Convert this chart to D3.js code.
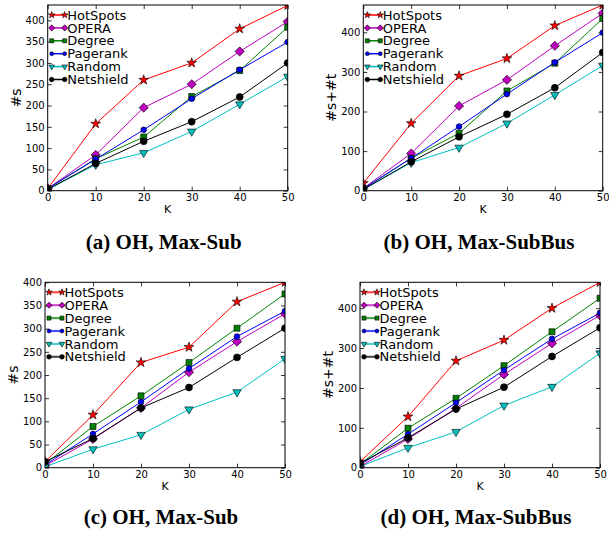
<!DOCTYPE html>
<html>
<head>
<meta charset="utf-8">
<script src="https://cdn.jsdelivr.net/npm/d3@7"></script>
<style>
  body { margin: 0; background: #fff; }
  svg { display: block; }
  .tick text { font-family: "DejaVu Sans", sans-serif; font-size: 10px; fill: #000; }
</style>
</head>
<body>
<script>
// x values and series names
var kValues = [0, 10, 20, 30, 40, 50];
var methods = ["HotSpots", "OPERA", "Degree", "Pagerank", "Random", "Netshield"];

// (a) OH, Max-Sub : #s
var seriesA = [
  [5, 157, 260, 300, 380, 435],
  [5, 84, 195, 250, 327, 397],
  [5, 75, 126, 221, 282, 384],
  [5, 74, 143, 216, 284, 349],
  [3, 61, 89, 139, 203, 268],
  [3, 64, 116, 162, 220, 300]
];
// (b) OH, Max-SubBus : #s+#t
var seriesB = [
  [19, 170, 290, 334, 417, 469],
  [6, 94, 214, 280, 366, 448],
  [5, 82, 145, 252, 322, 435],
  [5, 82, 162, 244, 324, 399],
  [3, 71, 109, 170, 242, 316],
  [3, 73, 136, 193, 260, 349]
];
// (c) OH, Max-Sub : #s
var seriesC = [
  [13, 114, 227, 260, 358, 400],
  [4, 62, 129, 206, 272, 332],
  [8, 89, 155, 227, 301, 375],
  [6, 73, 142, 214, 283, 338],
  [2, 40, 71, 126, 163, 235],
  [13, 63, 129, 173, 238, 301]
];
// (d) OH, Max-SubBus : #s+#t
var seriesD = [
  [15, 128, 268, 320, 400, 465],
  [3, 72, 149, 234, 312, 382],
  [9, 99, 174, 256, 341, 425],
  [7, 84, 163, 245, 323, 388],
  [3, 50, 90, 156, 203, 287],
  [11, 75, 147, 202, 279, 351]
];

var xTicks = [0, 10, 20, 30, 40, 50];
var yTicks50 = [0, 50, 100, 150, 200, 250, 300, 350, 400];
var yTicks100 = [0, 100, 200, 300, 400];
var yMaxes = [436, 469, 400, 465];
var captions = ["(a) OH, Max-Sub", "(b) OH, Max-SubBus", "(c) OH, Max-Sub", "(d) OH, Max-SubBus"];
var yLabels = ["#s", "#s+#t", "#s", "#s+#t"];

var colors = ["#ff0000", "#bf00bf", "#008000", "#0000ff", "#00bfbf", "#000000"];
var shapes = ["star", "diamond", "square", "circle", "tridown", "circle"];
var markerSizes = [30, 42, 36, 26, 30, 38];

var width = 609, height = 533;
var svg = d3.select("body").append("svg")
    .attr("width", width)
    .attr("height", height);

var panels = [
  {data: seriesA, left: 47.7, right: 287.7, top: 5, bottom: 190.7, yt: yTicks50, lw: 1.5},
  {data: seriesB, left: 363.3, right: 602.7, top: 5, bottom: 190.7, yt: yTicks100, lw: 1.5},
  {data: seriesC, left: 45, right: 285, top: 282.3, bottom: 467.7, yt: yTicks50, lw: 2.2},
  {data: seriesD, left: 360, right: 600, top: 282.3, bottom: 467.7, yt: yTicks100, lw: 2.2}
];

function symbolPath(shape, size) {
  var t, rot = 0;
  if (shape == "star") t = d3.symbolStar;
  else if (shape == "diamond") { t = d3.symbolSquare; rot = 45; }
  else if (shape == "square") t = d3.symbolSquare;
  else if (shape == "tridown") { t = d3.symbolTriangle; rot = 180; }
  else t = d3.symbolCircle;
  return {d: d3.symbol().type(t).size(size)(), rot: rot};
}

function drawMarker(g, i, x, y, scale) {
  var s = symbolPath(shapes[i], markerSizes[i] * scale);
  g.append("path")
    .attr("d", s.d)
    .attr("transform", "translate(" + x + "," + y + ") rotate(" + s.rot + ")")
    .attr("fill", colors[i])
    .attr("stroke", "#000")
    .attr("stroke-width", 0.6);
}

panels.forEach(function(p, pi) {
  var w = p.right - p.left, h = p.bottom - p.top;
  var g = svg.append("g")
      .attr("transform", "translate(" + p.left + "," + p.top + ")");

  var x = d3.scaleLinear().domain([0, 50]).range([0, w]);
  var y = d3.scaleLinear().domain([0, yMaxes[pi]]).range([h, 0]);

  g.append("clipPath").attr("id", "clip" + pi)
    .append("rect").attr("width", w).attr("height", h);

  // axes, ticks pointing inward on every side
  var ax = [
    {a: d3.axisBottom(x).tickValues(xTicks).tickFormat(d3.format("d")), t: "translate(0," + h + ")"},
    {a: d3.axisTop(x).tickValues(xTicks).tickFormat(""), t: ""},
    {a: d3.axisLeft(y).tickValues(p.yt).tickFormat(d3.format("d")), t: ""},
    {a: d3.axisRight(y).tickValues(p.yt).tickFormat(""), t: "translate(" + w + ",0)"}
  ];
  ax.forEach(function(o) {
    var ag = g.append("g").attr("transform", o.t)
      .call(o.a.tickSizeInner(-4).tickSizeOuter(0).tickPadding(3));
    ag.select(".domain").remove();
    ag.selectAll(".tick line").attr("stroke", "#000").attr("stroke-width", 0.8);
  });

  var plot = g.append("g").attr("clip-path", "url(#clip" + pi + ")");
  var line = d3.line()
      .x(function(d, i) { return x(kValues[i]); })
      .y(function(d) { return y(d); });

  p.data.forEach(function(vals, si) {
    plot.append("path")
      .datum(vals)
      .attr("d", line)
      .attr("fill", "none")
      .attr("stroke", colors[si])
      .attr("stroke-width", 1);
  });
  p.data.forEach(function(vals, si) {
    vals.forEach(function(v, i) {
      drawMarker(plot, si, x(kValues[i]), y(v), 1);
    });
  });

  g.append("rect")
    .attr("width", w).attr("height", h)
    .attr("fill", "none").attr("stroke", "#000").attr("stroke-width", 1);

  // legend, no frame
  var lg = g.append("g").attr("transform", "translate(4,10)");
  methods.forEach(function(m, si) {
    var row = lg.append("g").attr("transform", "translate(0," + (si * 12.9) + ")");
    row.append("line")
      .attr("x1", 0).attr("x2", 13)
      .attr("stroke", colors[si])
      .attr("stroke-width", p.lw)
      .attr("stroke-opacity", p.lw > 2 ? 0.7 : 1);
    drawMarker(row, si, 0, 0, 0.45);
    drawMarker(row, si, 13, 0, 0.45);
    row.append("text")
      .attr("x", 15.5).attr("y", 4.6)
      .attr("font-family", "DejaVu Sans, sans-serif")
      .attr("font-size", 13)
      .text(m);
  });

  // axis labels
  g.append("text")
    .attr("x", w / 2).attr("y", h + 22)
    .attr("text-anchor", "middle")
    .attr("font-family", "DejaVu Sans, sans-serif")
    .attr("font-size", 11)
    .text("K");
  g.append("text")
    .attr("transform", "translate(-27," + (h / 2) + ") rotate(-90)")
    .attr("text-anchor", "middle")
    .attr("font-family", "DejaVu Sans, sans-serif")
    .attr("font-size", 14)
    .text(yLabels[pi]);

  // caption
  svg.append("text")
    .attr("x", (p.left + p.right) / 2 - 4)
    .attr("y", pi < 2 ? 249 : 524)
    .attr("text-anchor", "middle")
    .attr("font-family", "Liberation Serif, serif")
    .attr("font-weight", "bold")
    .attr("font-size", 21)
    .text(captions[pi]);
});
</script>
</body>
</html>
